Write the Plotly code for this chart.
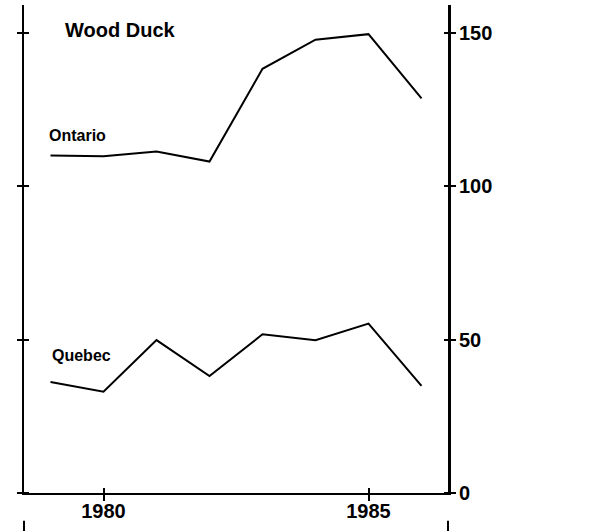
import plotly.graph_objects as go

years = [1979, 1980, 1981, 1982, 1983, 1984, 1985, 1986]
ontario = [110.0, 109.7, 111.3, 108.0, 138.2, 147.7, 149.5, 128.6]
quebec = [36.2, 33.0, 49.8, 38.1, 51.7, 49.8, 55.2, 34.9]
x_ticks = [1980, 1985]
y_ticks = [0, 50, 100, 150]
title_text = "Wood Duck"
series_names = ["Ontario", "Quebec"]

XR = [1978.5, 1986.5]
YR = [0, 159]
FONT = dict(family="Liberation Sans, Arial", size=20, color="black", weight="bold")

PW, PH = 424, 488  # plot area in px

fig = go.Figure()
fig.add_trace(go.Scatter(x=years, y=ontario, mode="lines",
                         line=dict(color="black", width=2), name=series_names[0]))
fig.add_trace(go.Scatter(x=years, y=quebec, mode="lines",
                         line=dict(color="black", width=2), name=series_names[1]))
# empty traces so the extra (decorative) axes get drawn
for xa, ya in [("x2", "y2"), ("x", "y3"), ("x", "y4")]:
    fig.add_trace(go.Scatter(x=[], y=[], xaxis=xa, yaxis=ya, mode="lines",
                             hoverinfo="skip", showlegend=False))

common_x = dict(range=XR, tickvals=x_ticks, showgrid=False, zeroline=False,
                tickcolor="black", tickwidth=2, ticklen=6, automargin=False)
common_y = dict(range=YR, tickvals=y_ticks, showgrid=False, zeroline=False,
                tickcolor="black", tickwidth=2, ticklen=5, automargin=False)

fig.update_layout(
    width=604, height=531,
    margin=dict(l=24, r=156, t=5, b=38, autoexpand=False),
    paper_bgcolor="white", plot_bgcolor="white",
    showlegend=False,
    xaxis=dict(**common_x, ticks="outside", showline=True, linecolor="black",
               linewidth=2, tickfont=FONT, ticklabelstandoff=-7),
    xaxis2=dict(**common_x, ticks="outside", overlaying="x", anchor="free",
                position=6 / PH, side="bottom", showline=False,
                showticklabels=False),
    yaxis=dict(**common_y, side="right", ticks="outside", showline=True,
               linecolor="black", linewidth=3, tickfont=FONT, ticklabelstandoff=-1),
    yaxis2=dict(**common_y, side="right", overlaying="y", anchor="free",
                position=1 - 5 / PW, ticks="outside", showline=False,
                showticklabels=False),
    yaxis3=dict(**common_y, side="left", overlaying="y", anchor="x",
                ticks="outside", showline=True, linecolor="black", linewidth=2,
                showticklabels=False),
    yaxis4=dict(**common_y, side="left", overlaying="y", anchor="free",
                position=5 / PW, ticks="outside", showline=False,
                showticklabels=False),
)

fig.add_annotation(x=1980.32, y=150.7, xref="x", yref="y", text=title_text,
                   showarrow=False, font=dict(family="Liberation Sans, Arial", size=20,
                                              color="black", weight="bold"))
fig.add_annotation(x=1979.51, y=116.5, xref="x", yref="y", text=series_names[0],
                   showarrow=False, font=dict(family="Liberation Sans, Arial", size=16,
                                              color="black", weight="bold"))
fig.add_annotation(x=1979.58, y=44.9, xref="x", yref="y", text=series_names[1],
                   showarrow=False, font=dict(family="Liberation Sans, Arial", size=16,
                                              color="black", weight="bold"))

for xp in [0, 1]:
    fig.add_shape(type="line", xref="paper", yref="paper", x0=xp, x1=xp,
                  y0=-0.057, y1=-0.08, line=dict(color="black", width=2))

fig.write_html("out.html", config={"displayModeBar": False},
               post_script="document.body.style.margin='0';")
